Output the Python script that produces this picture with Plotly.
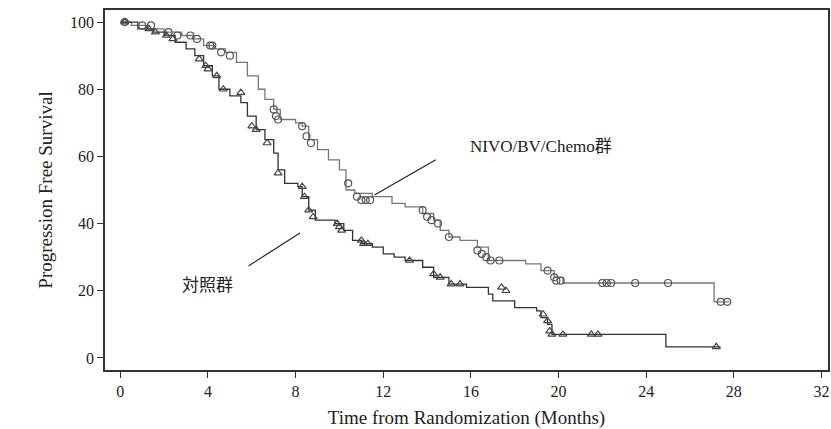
import plotly.graph_objects as go

nivo_t = [0,0.5,1.2,2,2.8,3.3,3.8,4.3,4.8,5.3,5.8,6.3,6.6,7,7.3,8,8.3,8.6,9,9.5,10,10.3,10.7,11.5,12.4,13,13.8,14.3,14.6,15,15.5,16.3,16.8,18.5,19.2,19.8,20.2,27.1,27.8]
nivo_s = [100,99,98,97,96,95,93,92,91,88,84,80,77,74,71,70,69,65,62,59,56,50,49,48,46,45,43,41,38,36,35,33,29,28,26,24,22.3,16.7,16.7]
ctrl_t = [0,0.8,1.5,2,2.5,3,3.4,3.8,4.2,4.5,5,5.5,5.8,6.2,6.6,7,7.2,7.5,8.1,8.3,8.6,8.9,9.8,10.2,10.6,11,11.5,12,12.5,13,13.8,14.3,15,15.8,16.8,17,18,19,19.2,19.5,19.7,24.9,27.4]
ctrl_s = [100,98,97,96,94,92,90,87,84,80,78,76,72,68,65,61,56,52,51,48,44,41,40,38,35,34,33,31,30,29,27,24,22,21,19,17,15,14,12,10,7,3.3,3.3]

nivo_ct = [0.2,1,1.4,2.2,2.6,3.2,3.5,4.1,4.2,4.6,5.0,7.0,7.1,7.2,8.3,8.5,8.7,10.4,10.8,11.0,11.2,11.4,13.8,14.0,14.2,14.5,15.0,16.3,16.5,16.7,16.9,17.3,19.5,19.8,19.9,20.1,22.0,22.2,22.4,23.5,25.0,27.4,27.7]
nivo_cs = [100,99,99,97,96,96,95,93,93,91,90,74,72,71,69,66,64,52,48,47,47,47,44,42,41,40,36,32,31,30,29,29,26,24,23,23,22.3,22.3,22.3,22.3,22.3,16.7,16.7]
ctrl_ct = [0.2,1.3,1.6,2.1,2.4,3.6,3.9,4.0,4.4,4.7,5.5,6.0,6.2,6.7,7.2,8.3,8.4,8.6,8.8,9.9,10.0,10.1,11.0,11.1,11.3,13.2,14.3,14.6,15.1,15.5,17.4,17.6,19.3,19.5,19.6,19.7,20.2,21.5,21.8,27.2]
ctrl_cs = [100,98,97,96,95,89,87,86,84,80,79,69,68,64,55,51,48,44,42,40,39,38,35,34,34,29,25,24,22,22,21,20,13,11,8,7,7,7,7,3.3]

BLACK = "#333333"
GRAY = "#777777"
fig = go.Figure()
fig.add_trace(go.Scatter(x=nivo_t, y=nivo_s, mode="lines", line=dict(shape="hv", color=GRAY, width=1.3)))
fig.add_trace(go.Scatter(x=ctrl_t, y=ctrl_s, mode="lines", line=dict(shape="hv", color=BLACK, width=1.3)))
fig.add_trace(go.Scatter(x=nivo_ct, y=nivo_cs, mode="markers", marker=dict(symbol="circle-open", size=7, color="#555555", line=dict(width=1.2))))
fig.add_trace(go.Scatter(x=ctrl_ct, y=ctrl_cs, mode="markers", marker=dict(symbol="triangle-up-open", size=7, color="#444444", line=dict(width=1.2))))

fig.add_annotation(x=19.2, y=63, text="NIVO/BV/Chemo群", showarrow=False, font=dict(size=17, color="#222"))
fig.add_annotation(x=4.0, y=22.3, text="対照群", showarrow=False, font=dict(size=17, color="#222", family="Noto Sans CJK JP"))
fig.add_shape(type="line", x0=11.6, y0=48.5, x1=14.4, y1=59, line=dict(color="#222", width=1.2))
fig.add_shape(type="line", x0=5.85, y0=27.4, x1=8.2, y1=37.2, line=dict(color="#222", width=1.2))

ax = dict(showline=True, mirror=True, linecolor="#333", linewidth=1.5, ticks="outside", ticklen=6, tickcolor="#333",
          showgrid=False, zeroline=False, automargin=False, tickfont=dict(size=16))
fig.update_layout(
    width=831, height=429, showlegend=False, plot_bgcolor="white", paper_bgcolor="white",
    margin=dict(l=105, r=3, t=10, b=59),
    font=dict(family="Liberation Serif, Noto Sans CJK JP", size=16, color="#222"),
    xaxis=dict(ax, range=[-0.7, 32.3], tickvals=[0,4,8,12,16,20,24,28,32], title=dict(text="Time from Randomization (Months)", standoff=12)),
    yaxis=dict(ax, range=[-3.6, 103.6], tickvals=[0,20,40,60,80,100], title=dict(text="Progression Free Survival", standoff=12)),
)
fig.write_html("out.html", config={"displayModeBar": False},
               post_script="document.body.style.margin='0';document.body.style.overflow='hidden';")
